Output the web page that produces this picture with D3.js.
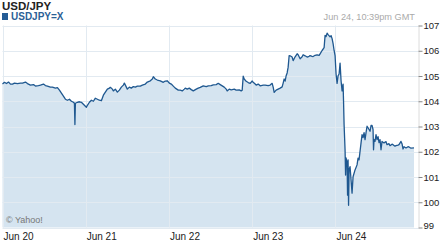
<!DOCTYPE html>
<html>
<head>
<meta charset="utf-8">
<script src="https://cdn.jsdelivr.net/npm/d3@7"></script>
<style>
  body { margin: 0; background: #fff; }
  svg { display: block; font-family: 'Liberation Sans', Arial, sans-serif; }
</style>
</head>
<body>
<svg id="chart" width="440" height="248"></svg>
<script>
// hours since Jun 20 00:00 GMT
const hours = [
  0, 0.58, 1.15, 1.73, 2.3, 2.88, 3.46, 4.32, 5.18, 5.76, 6.62, 7.2, 8.06, 8.93, 9.5, 10.37,
  10.94, 11.81, 12.38, 12.96, 13.82, 14.4, 15.26, 15.84, 16.42, 16.99, 17.57, 18.14, 18.72,
  19.3, 19.87, 20.45, 20.74, 20.88, 21.02, 21.6, 22.18, 22.75, 23.33, 23.9, 24.19, 24.48,
  25.06, 25.63, 26.21, 26.78, 27.36, 27.94, 28.51, 29.09, 29.66, 30.24, 30.82, 31.1, 31.68,
  31.97, 32.54, 33.12, 33.7, 34.27, 34.85, 35.14, 35.71, 36.0, 36.58, 37.15, 37.73, 38.3,
  38.88, 39.74, 40.32, 41.18, 41.76, 42.62, 43.2, 43.49, 44.06, 44.64, 45.5, 46.37, 46.94,
  47.52, 48.1, 48.67, 49.25, 49.82, 50.69, 51.26, 51.84, 52.42, 52.7, 53.28, 53.86, 54.43,
  55.01, 55.87, 56.45, 57.02, 57.89, 58.75, 59.33, 60.19, 60.77, 61.63, 62.21, 62.78, 63.36,
  63.94, 64.51, 64.8, 65.38, 65.95, 66.82, 67.39, 68.26, 68.83, 69.12, 69.41, 69.7, 70.27,
  70.85, 71.42, 72.0, 72.29, 72.86, 73.15, 73.73, 74.3, 75.17, 75.74, 76.61, 77.18, 77.76,
  78.05, 78.34, 78.91, 79.49, 80.06, 80.64, 80.93, 81.22, 81.5, 81.79, 82.08, 82.37, 82.66,
  82.94, 83.52, 83.81, 84.38, 84.96, 85.25, 85.82, 86.4, 86.69, 87.26, 87.84, 88.42, 88.7,
  89.28, 89.57, 90.14, 90.72, 91.3, 91.58, 92.16, 92.74, 93.02, 93.31, 93.6, 93.89, 94.46,
  94.75, 95.04, 95.33, 95.62, 95.9, 96.19, 96.48, 96.77, 97.06, 97.34, 97.63, 97.92, 98.21,
  98.35, 98.5, 98.78, 98.93, 99.07, 99.36, 99.5, 99.65, 99.79, 99.94, 100.22, 100.51, 100.8,
  101.09, 101.66, 102.24, 102.53, 102.81, 103.39, 103.68, 103.97, 104.26, 104.54, 104.83,
  105.12, 105.41, 105.98, 106.27, 106.56, 106.85, 106.99, 107.14, 107.42, 107.71, 108.0,
  108.29, 108.58, 108.86, 109.15, 109.44, 110.02, 110.59, 110.88, 111.46, 111.74, 112.32,
  112.61, 113.18, 113.47, 114.05, 114.34, 114.91, 115.2, 115.49, 115.78, 116.35, 116.93,
  117.22, 117.79, 118.66
];

const rates = [
  104.68, 104.75, 104.7, 104.76, 104.68, 104.68, 104.72, 104.7, 104.72, 104.72, 104.76, 104.7,
  104.64, 104.66, 104.6, 104.62, 104.64, 104.68, 104.62, 104.6, 104.56, 104.56, 104.52, 104.54,
  104.44, 104.32, 104.2, 104.08, 104.04, 104.08, 104.0, 103.96, 103.92, 103.08, 103.92, 103.96,
  103.98, 103.96, 103.88, 103.8, 103.76, 103.84, 103.96, 104.04, 104.0, 104.12, 104.08, 104.04,
  104.02, 104.24, 104.36, 104.48, 104.52, 104.55, 104.48, 104.41, 104.48, 104.36, 104.44, 104.56,
  104.64, 104.72, 104.56, 104.48, 104.56, 104.52, 104.58, 104.56, 104.6, 104.6, 104.64, 104.68,
  104.76, 104.81, 104.88, 104.97, 104.88, 104.84, 104.81, 104.75, 104.8, 104.81, 104.72, 104.68,
  104.6, 104.52, 104.44, 104.44, 104.41, 104.48, 104.52, 104.48, 104.52, 104.46, 104.41, 104.48,
  104.52, 104.55, 104.61, 104.58, 104.61, 104.62, 104.65, 104.66, 104.71, 104.66, 104.61, 104.56,
  104.48, 104.41, 104.48, 104.45, 104.48, 104.44, 104.45, 104.41, 104.44, 104.99, 104.88, 104.79,
  104.74, 104.71, 104.8, 104.75, 104.68, 104.64, 104.68, 104.61, 104.64, 104.64, 104.62, 104.64,
  104.71, 104.56, 104.35, 104.44, 104.48, 104.52, 104.57, 104.72, 104.88, 104.8, 105.01, 105.12,
  105.35, 105.81, 105.8, 105.75, 105.61, 105.76, 105.88, 105.84, 105.68, 105.76, 105.84, 105.8,
  105.75, 105.78, 105.81, 105.78, 105.77, 105.82, 105.84, 105.82, 105.88, 106.01, 106.12, 106.61,
  106.56, 106.7, 106.64, 106.55, 106.6, 106.48, 106.28, 106.01, 105.81, 105.08, 104.71, 105.01,
  105.08, 105.51, 104.81, 104.41, 104.68, 103.96, 103.08, 102.08, 101.08, 101.76, 101.56, 100.28,
  101.68, 99.88, 101.28, 101.41, 100.88, 100.36, 101.01, 101.28, 101.48, 101.75, 101.68, 102.35,
  102.68, 102.56, 102.76, 102.48, 102.76, 103.01, 102.95, 102.81, 103.04, 103.04, 102.88, 102.08,
  102.48, 102.41, 102.68, 102.48, 102.6, 102.36, 102.48, 102.08, 102.41, 102.35, 102.4, 102.28,
  102.32, 102.24, 102.3, 102.28, 102.22, 102.24, 102.26, 102.28, 102.41, 102.32, 102.11, 102.2,
  102.15, 102.2, 102.19, 102.14, 102.15
];

const yTicks = [99, 100, 101, 102, 103, 104, 105, 106, 107];
const dayLabels = ['Jun 20', 'Jun 21', 'Jun 22', 'Jun 23', 'Jun 24'];

const svg = d3.select('#chart'),
  plot = { left: 2.5, right: 418.5, top: 25.5, bottom: 227.5, dataRight: 414 };

const start = Date.UTC(2013, 5, 20);
const data = hours.map((h, i) => ({ date: new Date(start + h * 36e5), value: rates[i] }));
const days = dayLabels.map((d, i) => new Date(start + i * 864e5));

const x = d3
  .scaleUtc()
  .domain(d3.extent(data, d => d.date))
  .range([plot.left, plot.dataRight]);

const y = d3
  .scaleLinear()
  .domain([99, 107])
  .range([plot.bottom, plot.top]);

// area fill
svg
  .append('path')
  .datum(data)
  .attr('fill', '#d5e4f0')
  .attr('d', d3.area().x(d => x(d.date)).y0(plot.bottom).y1(d => y(d.value)));

// grid
svg
  .append('g')
  .attr('stroke', '#e2eaf1')
  .attr('stroke-width', 1)
  .selectAll('line.h')
  .data(yTicks)
  .enter()
  .append('line')
  .attr('x1', plot.left)
  .attr('x2', plot.right)
  .attr('y1', d => Math.round(y(d)) + 0.5)
  .attr('y2', d => Math.round(y(d)) + 0.5);

svg
  .append('g')
  .attr('stroke', '#e2eaf1')
  .selectAll('line')
  .data(days)
  .enter()
  .append('line')
  .attr('x1', d => Math.round(x(d)) + 0.5)
  .attr('x2', d => Math.round(x(d)) + 0.5)
  .attr('y1', plot.top)
  .attr('y2', plot.bottom);

// line
svg
  .append('path')
  .datum(data)
  .attr('fill', 'none')
  .attr('stroke', '#1f5890')
  .attr('stroke-width', 1.3)
  .attr('stroke-linejoin', 'round')
  .attr('d', d3.line().x(d => x(d.date)).y(d => y(d.value)));

// right axis
const yAxis = g =>
  g
    .attr('transform', `translate(${plot.right},0)`)
    .call(d3.axisRight(y).tickValues(yTicks).tickSize(4).tickPadding(1).tickFormat(d3.format('d')))
    .call(g => g.select('.domain').attr('stroke', '#dcdcdc').attr('d', `M0.5,${plot.top}V${plot.bottom}`))
    .call(g => g.selectAll('.tick line').attr('stroke', '#888'))
    .call(g => g.selectAll('.tick text').attr('fill', '#222').attr('font-size', 9.5).attr('font-family', null));

svg.append('g').call(yAxis);
svg.select('.tick:first-of-type text').attr('dy', '0.1em');

// x labels
svg
  .append('g')
  .attr('font-size', 10)
  .attr('fill', '#222')
  .selectAll('text')
  .data(days)
  .enter()
  .append('text')
  .attr('x', d => x(d) + 1)
  .attr('y', 240)
  .text((d, i) => dayLabels[i]);

// header
svg.append('text').attr('x', 2).attr('y', 10).attr('font-size', 11.5).attr('font-weight', 'bold').attr('fill', '#222').text('USD/JPY');
svg.append('rect').attr('x', 2).attr('y', 13).attr('width', 6).attr('height', 7).attr('fill', '#245c96');
svg.append('text').attr('x', 11).attr('y', 20).attr('font-size', 10).attr('font-weight', 'bold').attr('fill', '#2b5f97').text('USDJPY=X');
svg.append('text').attr('x', 415).attr('y', 19.5).attr('font-size', 9.2).attr('text-anchor', 'end').attr('fill', '#aaa').text('Jun 24, 10:39pm GMT');
svg.append('text').attr('x', 6).attr('y', 222.5).attr('font-size', 9).attr('fill', '#777').text('© Yahoo!');
</script>
</body>
</html>
